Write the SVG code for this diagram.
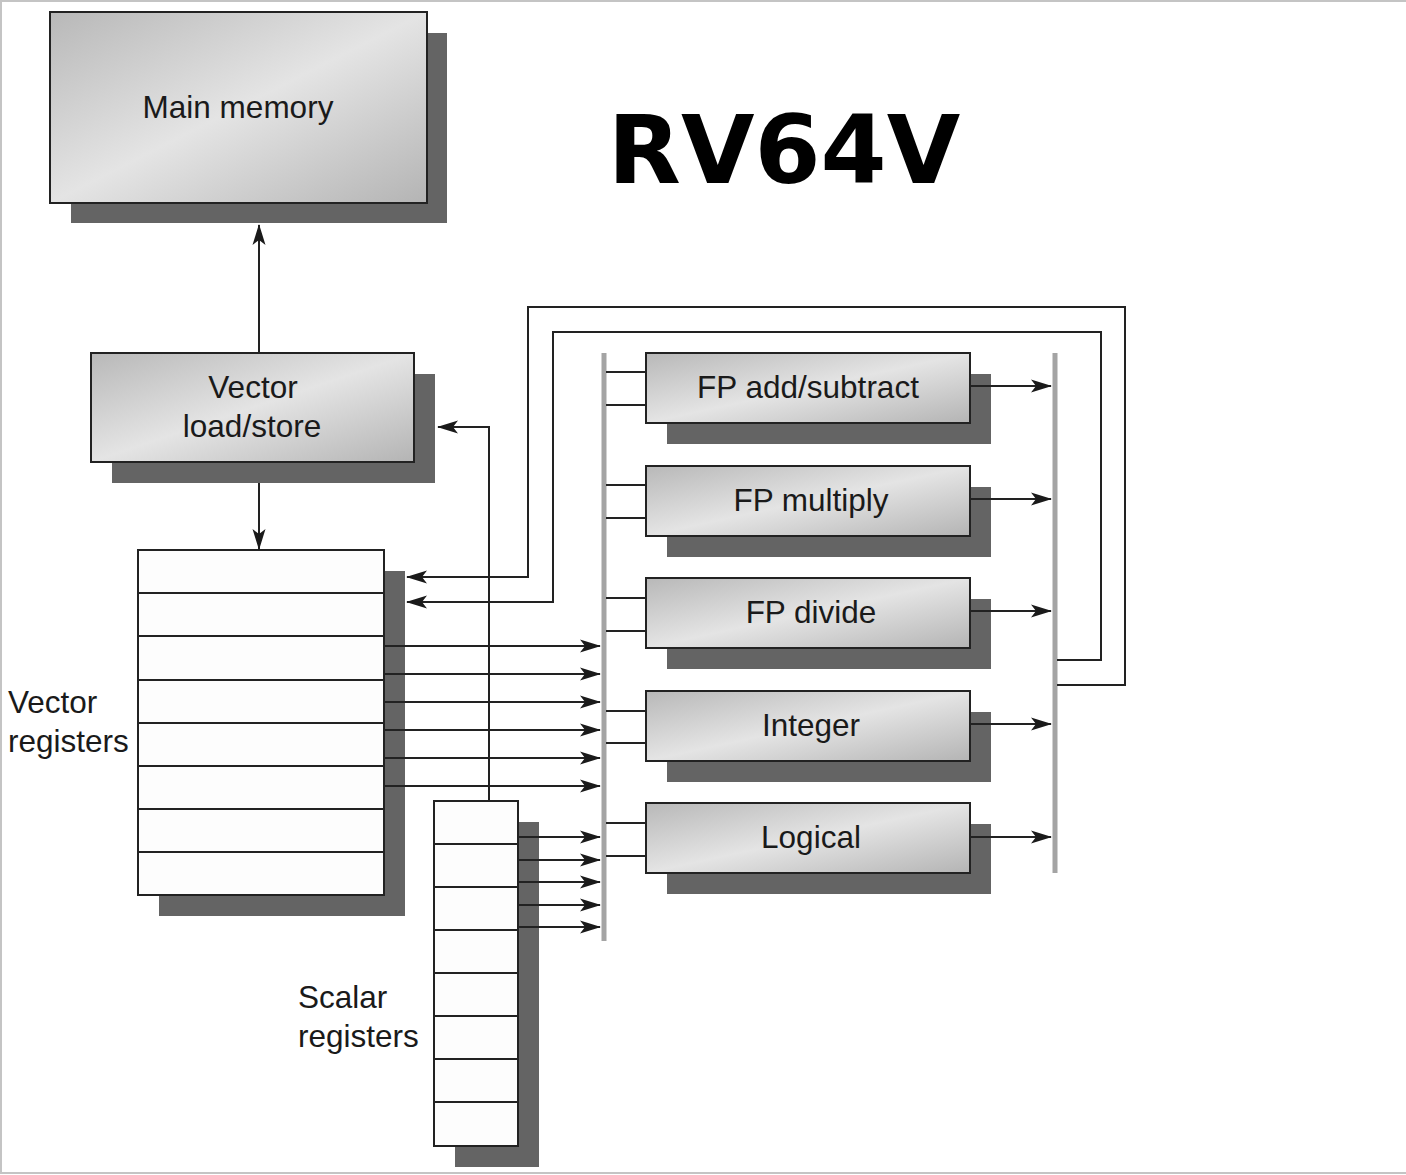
<svg xmlns="http://www.w3.org/2000/svg" width="1406" height="1175" viewBox="0 0 1406 1175">
<defs>
<linearGradient id="g" x1="0" y1="0" x2="1" y2="1">
<stop offset="0" stop-color="#b8b8b8"/>
<stop offset="0.5" stop-color="#e4e4e4"/>
<stop offset="1" stop-color="#b4b4b4"/>
</linearGradient>
<marker id="ah" markerUnits="userSpaceOnUse" markerWidth="22" markerHeight="14" refX="20" refY="7" orient="auto">
<path d="M0,0.5 L21,7 L0,13.5 L5,7 z" fill="#1a1a1a"/>
</marker>
</defs>
<style>
.sh{fill:#646464}
.bx{fill:url(#g);stroke:#222;stroke-width:2}
.rg{fill:#fdfdfd;stroke:#222;stroke-width:2}
.ln{fill:none;stroke:#222;stroke-width:2}
.ar{fill:none;stroke:#222;stroke-width:2;marker-end:url(#ah)}
.bus{stroke:#a4a4a4;stroke-width:5}
.t{font-family:"Liberation Sans",Arial,sans-serif;font-size:31.5px;fill:#1a1a1a}
.c{text-anchor:middle}
</style>
<rect x="0" y="0" width="1406" height="1175" fill="#fff"/>
<path d="M1,1174 V1 H1406 M0,1173 H1406" fill="none" stroke="#c4c4c4" stroke-width="2"/>
<text x="784" y="183" text-anchor="middle" font-family="'DejaVu Sans',Verdana,sans-serif" font-weight="bold" font-size="95" fill="#000">RV64V</text>

<g id="main-memory">
<rect class="sh" x="71" y="33" width="376" height="190"/>
<rect class="bx" x="50" y="12" width="377" height="191"/>
<text class="t c" x="238" y="118">Main memory</text>
</g>
<g id="vector-load-store">
<rect class="sh" x="112" y="374" width="323" height="109"/>
<rect class="bx" x="91" y="353" width="323" height="109"/>
<text class="t c" x="253" y="398">Vector</text>
<text class="t c" x="252" y="437">load/store</text>
</g>
<g id="vector-registers">
<rect class="sh" x="159" y="571" width="246" height="345"/>
<rect class="rg" x="138" y="550" width="246" height="345"/>
<path class="ln" d="M138,593H384M138,636H384M138,680H384M138,723H384M138,766H384M138,809H384M138,852H384"/>
<text class="t" x="8" y="713">Vector</text>
<text class="t" x="8" y="752">registers</text>
</g>
<g id="scalar-registers">
<rect class="sh" x="455" y="822" width="84" height="345"/>
<rect class="rg" x="434" y="801" width="84" height="345"/>
<path class="ln" d="M434,844H518M434,887H518M434,930H518M434,973H518M434,1016H518M434,1059H518M434,1102H518"/>
<text class="t" x="298" y="1008">Scalar</text>
<text class="t" x="298" y="1047">registers</text>
</g>
<g id="fp-add">
<rect class="sh" x="667" y="374" width="324" height="70"/>
<rect class="bx" x="646" y="353" width="324" height="70"/>
<text class="t c" x="808" y="398">FP add/subtract</text>
</g>
<g id="fp-multiply">
<rect class="sh" x="667" y="487" width="324" height="70"/>
<rect class="bx" x="646" y="466" width="324" height="70"/>
<text class="t c" x="811" y="511">FP multiply</text>
</g>
<g id="fp-divide">
<rect class="sh" x="667" y="599" width="324" height="70"/>
<rect class="bx" x="646" y="578" width="324" height="70"/>
<text class="t c" x="811" y="623">FP divide</text>
</g>
<g id="integer">
<rect class="sh" x="667" y="712" width="324" height="70"/>
<rect class="bx" x="646" y="691" width="324" height="70"/>
<text class="t c" x="811" y="736">Integer</text>
</g>
<g id="logical">
<rect class="sh" x="667" y="824" width="324" height="70"/>
<rect class="bx" x="646" y="803" width="324" height="70"/>
<text class="t c" x="811" y="848">Logical</text>
</g>
<g id="buses">
<line class="bus" x1="604" y1="353" x2="604" y2="941"/>
<line class="bus" x1="1055" y1="353" x2="1055" y2="873"/>
</g>
<g id="connectors">
<path class="ar" d="M259,353V225"/>
<path class="ar" d="M259,483V549"/>
<path class="ar" d="M489,801V427H438"/>
<path class="ar" d="M1057,685H1125V307H528V577H407"/>
<path class="ar" d="M1057,660H1101V332H553V602H407"/>
<path class="ar" d="M384,646H600"/>
<path class="ar" d="M384,674H600"/>
<path class="ar" d="M384,702H600"/>
<path class="ar" d="M384,730H600"/>
<path class="ar" d="M384,758H600"/>
<path class="ar" d="M384,786H600"/>
<path class="ar" d="M518,837H600"/>
<path class="ar" d="M518,860H600"/>
<path class="ar" d="M518,882H600"/>
<path class="ar" d="M518,905H600"/>
<path class="ar" d="M518,927H600"/>
<path class="ln" d="M606,372H646M606,405H646M606,485H646M606,518H646M606,598H646M606,631H646M606,711H646M606,743H646M606,823H646M606,856H646"/>
<path class="ar" d="M970,386H1051"/>
<path class="ar" d="M970,499H1051"/>
<path class="ar" d="M970,611H1051"/>
<path class="ar" d="M970,724H1051"/>
<path class="ar" d="M970,837H1051"/>
</g>
</svg>
